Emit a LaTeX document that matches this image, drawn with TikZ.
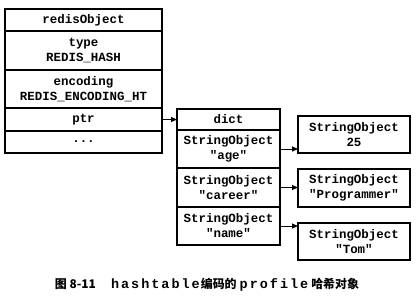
\documentclass[tikz,border=0pt]{standalone}
\usepackage{fontspec}
\usepackage{tikz}
\usetikzlibrary{arrows.meta, positioning}
\newfontfamily\monofont{Liberation Mono}
\newfontfamily\capmono{Liberation Mono}[LetterSpace=15]
\newfontfamily\cjk{Noto Sans CJK SC}

\begin{document}
\begin{tikzpicture}[
    x=1bp, y=-1bp,
    field/.style={rectangle, draw=black, line width=1.2bp, inner sep=0pt, outer sep=0pt, align=center,
        font=\monofont\bfseries\fontsize{12.5}{15}\selectfont},
    objrow/.style={field, minimum width=157bp},
    dictrow/.style={field, minimum width=103bp},
    valbox/.style={field, minimum width=112bp, minimum height=37bp},
    arrow/.style={line width=1bp, -{Triangle[length=6bp,width=5bp]}}
]
\useasboundingbox (0,0) rectangle (417,305);

% redisObject
\node (robj) [objrow, minimum height=22bp, anchor=north west] at (5,9) {redisObject};
\node (type) [objrow, minimum height=39bp, below=0pt of robj] {type\\REDIS\_HASH};
\node (enc) [objrow, minimum height=38bp, below=0pt of type] {encoding\\REDIS\_ENCODING\_HT};
\node (ptr) [objrow, minimum height=23bp, below=0pt of enc] {ptr};
\node (more) [objrow, minimum height=22bp, below=0pt of ptr] {...};

% dict
\node (dict) [dictrow, minimum height=21bp, anchor=north west] at (177,109) {dict};
\node (age) [dictrow, minimum height=38bp, below=0pt of dict] {StringObject\\"age"};
\node (career) [dictrow, minimum height=39bp, below=0pt of age] {StringObject\\"career"};
\node (name) [dictrow, minimum height=38bp, below=0pt of career] {StringObject\\"name"};

% values
\node (v25) [valbox, anchor=north west] at (298,116) {StringObject\\25};
\node (vprog) [valbox, minimum height=38bp, anchor=north west] at (298,169) {StringObject\\"Programmer"};
\node (vtom) [valbox, anchor=north west] at (298,223) {StringObject\\"Tom"};

% arrows
\draw [arrow] (ptr.east) -- (ptr.east -| dict.west);
\draw [arrow] (age.east) -- (age.east -| v25.west);
\draw [arrow] (career.east) -- (career.east -| vprog.west);
\draw [arrow] (name.east) -- (name.east -| vtom.west);

% caption
\node (caption) at (207,285) {\cjk\bfseries\fontsize{12}{14}\selectfont 图 8-11\hspace{15bp}{\capmono\fontsize{13.5}{14}\selectfont hashtable}\hspace{1bp}编码的\hspace{3bp}{\capmono\fontsize{13.5}{14}\selectfont profile}\hspace{3bp}哈希对象};

\end{tikzpicture}
\end{document}
